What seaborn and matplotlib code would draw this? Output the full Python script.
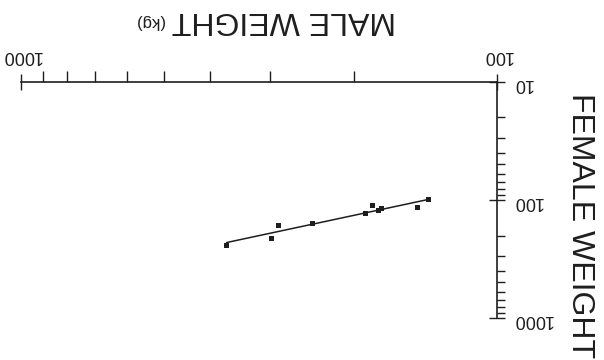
import numpy as np
import seaborn as sns
import matplotlib.pyplot as plt
from matplotlib import ticker

male_kg = [370, 297, 288, 244, 189, 183, 177, 175, 147, 139]
female_kg = [241, 211, 163, 157, 130, 112, 122, 118, 115, 99]

x_major = [100, 1000]
y_major = [10, 100, 1000]

sns.set_style('white')
plt.rcParams['font.family'] = ['Liberation Sans', 'DejaVu Sans']

ink = '#1e1e1e'

fig = plt.figure(figsize=(6.04, 3.6), dpi=100)
ax = fig.add_axes([0.0348, 0.1167, 0.7881, 0.6556])

# log-log fit through the points
coef = np.polyfit(np.log10(male_kg), np.log10(female_kg), 1)
fit_x = np.array([min(male_kg), max(male_kg)])
fit_y = 10 ** np.polyval(coef, np.log10(fit_x))

sns.lineplot(x=fit_x, y=fit_y, color=ink, lw=1.1, ax=ax)
sns.scatterplot(x=male_kg, y=female_kg, marker='s', s=13, color=ink,
                edgecolor='none', ax=ax, zorder=3)

ax.set_xscale('log')
ax.set_yscale('log')
# whole page is printed rotated by 180 degrees
ax.set_xlim(1000, 100)
ax.set_ylim(1000, 10)

ax.xaxis.set_major_locator(ticker.FixedLocator(x_major))
ax.yaxis.set_major_locator(ticker.FixedLocator(y_major))
ax.xaxis.set_minor_locator(ticker.LogLocator(base=10, subs=np.arange(2, 10)))
ax.yaxis.set_minor_locator(ticker.LogLocator(base=10, subs=np.arange(2, 10)))
fmt = ticker.FuncFormatter(lambda v, p: f'{v:g}')
ax.xaxis.set_major_formatter(fmt)
ax.yaxis.set_major_formatter(fmt)
ax.xaxis.set_minor_formatter(ticker.NullFormatter())
ax.yaxis.set_minor_formatter(ticker.NullFormatter())

ax.xaxis.set_ticks_position('top')
ax.yaxis.set_ticks_position('right')
for side in ['left', 'bottom']:
    ax.spines[side].set_visible(False)
for side in ['top', 'right']:
    ax.spines[side].set_color(ink)
    ax.spines[side].set_linewidth(1.2)

ax.tick_params(axis='both', which='major', direction='inout', length=12,
               width=1.0, color=ink, labelsize=13, labelcolor=ink,
               labelrotation=180)
ax.tick_params(axis='x', which='major', pad=7)
ax.tick_params(axis='y', which='major', pad=5)
ax.tick_params(axis='x', which='minor', direction='out', length=8,
               width=1.0, color=ink)
ax.tick_params(axis='y', which='minor', direction='out', length=6,
               width=1.0, color=ink)

ax.set_xlabel('')
ax.set_ylabel('')

fig.text(0.4694, 0.9667, 'MALE WEIGHT', fontsize=23, color=ink,
         rotation=180, rotation_mode='anchor', ha='center', va='baseline')
fig.text(0.2467, 0.954, '(kg)', fontsize=12, color=ink,
         rotation=180, rotation_mode='anchor', ha='center', va='baseline')
fig.text(0.947, 0.7417, 'FEMALE WEIGHT', fontsize=23, color=ink,
         rotation=270, rotation_mode='anchor', ha='left', va='baseline')

fig.savefig('out.png', dpi=100, facecolor='white')
